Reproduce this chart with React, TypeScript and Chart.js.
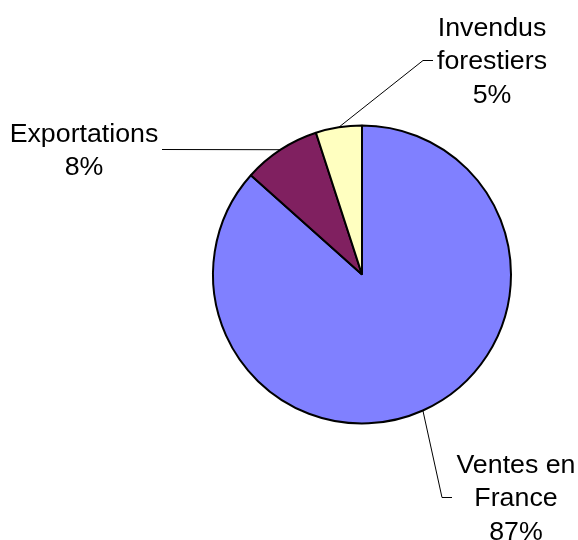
import React, { useEffect, useRef } from "react";
import { Chart, registerables } from "chart.js";

Chart.register(...registerables);

const categories = ["Ventes en\nFrance", "Exportations", "Invendus\nforestiers"];
const values = [86.6, 8.4, 5.0];
const colors = ["#8080FF", "#802060", "#FFFFC0"];

// label layout (positions only): label block center, elbow point, end point
const labelLayout = [
  { cx: 516, cy: 497.5, elbowX: 442, elbowY: 497.5, endX: 452, endY: 497.5 },
  { cx: 84, cy: 149.5, elbowX: 162, elbowY: 149.5, endX: 162, endY: 149.5 },
  { cx: 492, cy: 60.5, elbowX: 423, elbowY: 60.5, endX: 433, endY: 60.5 },
];

const FONT_SIZE = 25;
const X_STRETCH = 1.07;
const LINE_H = 33.5;

const labelPlugin = {
  id: "pieLabels",
  afterDraw(chart: any) {
    const ctx = chart.ctx;
    const meta = chart.getDatasetMeta(0);
    const data = chart.data.datasets[0].data as number[];
    const total = data.reduce((a, b) => a + b, 0);
    ctx.save();
    meta.data.forEach((arc: any, i: number) => {
      const { x, y, startAngle, endAngle, outerRadius } = arc.getProps(
        ["x", "y", "startAngle", "endAngle", "outerRadius"],
        true
      );
      const mid = (startAngle + endAngle) / 2;
      const sx = x + Math.cos(mid) * outerRadius;
      const sy = y + Math.sin(mid) * outerRadius;
      const L = labelLayout[i];
      ctx.strokeStyle = "#000";
      ctx.lineWidth = 1;
      ctx.beginPath();
      ctx.moveTo(sx, sy);
      ctx.lineTo(L.elbowX, L.elbowY);
      ctx.lineTo(L.endX, L.endY);
      ctx.stroke();

      const pct = Math.round((data[i] / total) * 100) + "%";
      const lines = [...String(chart.data.labels[i]).split("\n"), pct];
      ctx.fillStyle = "#000";
      ctx.font = `${FONT_SIZE}px "Liberation Sans", Arial, sans-serif`;
      ctx.textAlign = "center";
      ctx.textBaseline = "alphabetic";
      const n = lines.length;
      lines.forEach((t, k) => {
        const cyLine = L.cy + (k - (n - 1) / 2) * LINE_H;
        ctx.save();
        ctx.translate(L.cx, cyLine + FONT_SIZE * 0.358);
        ctx.scale(X_STRETCH, 1);
        ctx.fillText(t, 0, 0);
        ctx.restore();
      });
    });
    ctx.restore();
  },
};

export default function App() {
  const ref = useRef<HTMLCanvasElement>(null);
  useEffect(() => {
    if (!ref.current) return;
    const chart = new Chart(ref.current, {
      type: "pie",
      data: {
        labels: categories,
        datasets: [
          {
            data: values,
            backgroundColor: colors,
            borderColor: "#000",
            borderWidth: 2,
          },
        ],
      },
      options: {
        responsive: false,
        maintainAspectRatio: false,
        animation: false,
        devicePixelRatio: 1,
        layout: { padding: { left: 212, right: 66, top: 124.5, bottom: 115.5 } },
        plugins: {
          legend: { display: false },
          tooltip: { enabled: false },
          title: { display: false },
        },
      },
      plugins: [labelPlugin],
    });
    return () => chart.destroy();
  }, []);
  return (
    <div style={{ position: "absolute", left: 0, top: 0, width: 578, height: 540, background: "#fff" }}>
      <canvas ref={ref} width={578} height={540} style={{ display: "block" }} />
    </div>
  );
}
